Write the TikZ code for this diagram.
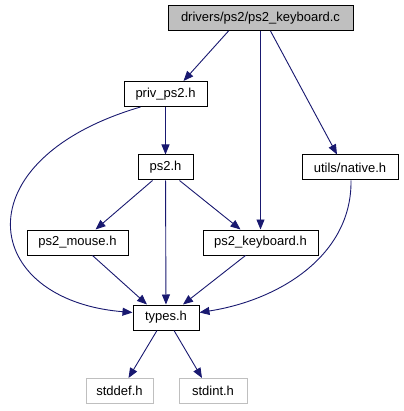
\documentclass[tikz,border=0pt]{standalone}
\usepackage{fontspec}
\setmainfont{Liberation Sans}
\usepackage{xcolor}
\usepackage{tikz}
\usetikzlibrary{arrows.meta,calc}
\definecolor{edgeblue}{RGB}{25,25,112}
\definecolor{sysgray}{RGB}{191,191,191}

\begin{document}
\begin{tikzpicture}[x=1pt,y=-1pt,>={Triangle[length=10pt,width=8pt]},
  hdr/.style={draw=black,line width=1pt,fill=white,minimum height=25pt,inner sep=0pt,font=\fontsize{13}{15}\selectfont},
  syshdr/.style={hdr,draw=sysgray},
  dep/.style={->,edgeblue,line width=0.9pt}]
\useasboundingbox (0,0) rectangle (403,411);
% headers
\node[hdr,fill=sysgray,minimum width=185pt] (kbc) at (260.5,18) {drivers/ps2/ps2\_keyboard.c};
\node[hdr,minimum width=83pt] (priv) at (165.5,94) {priv\_ps2.h};
\node[hdr,minimum width=55pt] (ps2) at (165.5,167.5) {ps2.h};
\node[hdr,minimum width=96pt] (utils) at (350,167.5) {utils/native.h};
\node[hdr,minimum width=101pt] (mouse) at (77.5,242.5) {ps2\_mouse.h};
\node[hdr,minimum width=115pt] (kbh) at (260.5,242.5) {ps2\_keyboard.h};
\node[hdr,minimum width=66pt] (types) at (166,317.5) {types.h};
\node[syshdr,minimum width=67pt] (stddef) at (119.5,391) {stddef.h};
\node[syshdr,minimum width=68pt] (stdint) at (213,391) {stdint.h};
% includes
\draw[dep] ([xshift=-32pt]kbc.south) -- ([xshift=18pt]priv.north);
\draw[dep] (kbc) -- (kbh);
\draw[dep] ([xshift=10pt]kbc.south) -- ([xshift=-13pt]utils.north);
\draw[dep] (priv) -- (ps2);
\draw[dep] ([xshift=-25pt]priv.south) .. controls (-40,160) and (-20,300) .. ([yshift=5pt]types.west);
\draw[dep] ([xshift=-13pt]ps2.south) -- ([xshift=18pt]mouse.north);
\draw[dep] (ps2) -- (types);
\draw[dep] ([xshift=14pt]ps2.south) -- ([xshift=-20pt]kbh.north);
\draw[dep] ([xshift=1pt]utils.south) .. controls (352,255) and (280,300) .. ([yshift=5pt]types.east);
\draw[dep] ([xshift=15pt]mouse.south) -- ([xshift=-19pt]types.north);
\draw[dep] ([xshift=-15pt]kbh.south) -- ([xshift=17pt]types.north);
\draw[dep] ([xshift=-9pt]types.south) -- ([xshift=9pt]stddef.north);
\draw[dep] ([xshift=8pt]types.south) -- ([xshift=-11pt]stdint.north);
\end{tikzpicture}
\end{document}
